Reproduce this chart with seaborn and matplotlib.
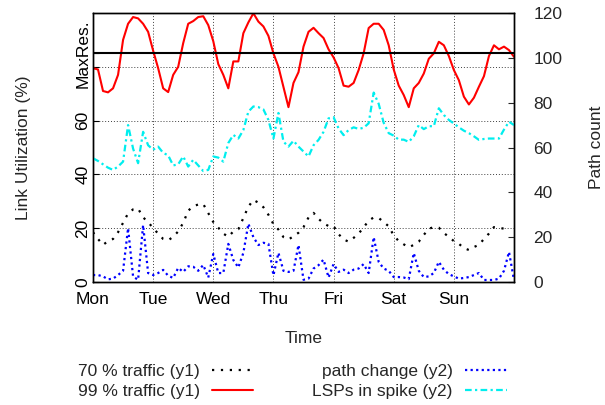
import matplotlib
matplotlib.use('Agg')

import numpy as np
import pandas as pd
import matplotlib.pyplot as plt
import seaborn as sns

# week of samples, one every 2 hours starting Monday 00:00
days = ["Mon", "Tue", "Wed", "Thu", "Fri", "Sat", "Sun"]
hours = np.arange(0, 170, 2)

# y1: link utilization (%)
traffic_99 = [79.5, 79, 71, 70.5, 72, 77, 90, 96, 98.5, 98,
              96, 93, 86, 79.5, 72, 70.6, 77, 80, 88.8, 96,
              97, 98.5, 98.8, 95.5, 89.5, 81, 77, 72, 82, 82,
              92.5, 96.5, 99.9, 96.8, 95, 91.5, 85, 80, 72.5, 65,
              74, 78, 87.5, 93, 94.5, 92.5, 90.7, 86.5, 83.5, 79.5,
              73, 72.6, 74, 78.8, 85, 94.4, 96, 96, 93.7, 88,
              79, 73, 69.5, 65, 72, 74, 77.5, 83, 85, 89.3,
              88, 84, 78.8, 75, 68.9, 66, 68.5, 72.6, 76.5, 84,
              88, 86.5, 87.5, 86.2, 83.7]
traffic_70 = [18.5, 16, 13.8, 15.2, 16, 18.5, 22, 25.5, 27, 27.3,
              24, 22.3, 20, 18, 16, 15.5, 16.8, 18.8, 22, 26.5,
              28.2, 28.8, 29, 25.6, 22.3, 20.2, 18, 16.8, 18.8, 19.6,
              23.8, 28, 30.5, 29.5, 27.8, 25, 21.5, 19.5, 16.7, 15.8,
              17, 18.3, 20.4, 24, 25.7, 23.5, 21.8, 20.8, 20.8, 17.8,
              15.8, 15, 16.4, 18, 20.3, 22.8, 24, 23.8, 22.3, 20.7,
              17.3, 15.2, 14, 12.9, 13.8, 15, 17.5, 19.8, 20.4, 20.2,
              18.2, 16.8, 15.2, 14.2, 12.6, 11.9, 13, 13.8, 16, 18,
              20.4, 20.2, 19.8, 19.5, np.nan]

# y2: path counts
path_change = [3.1, 3.1, 2.5, 1.2, 1.5, 3.1, 5, 24, 2.4, 1,
               25.4, 4, 3.1, 4, 5.4, 2.8, 1.8, 6.3, 4.5, 7,
               6.8, 5, 7.6, 2, 12.5, 4, 4, 17, 9.8, 6.5,
               13, 26, 20, 16.5, 17.5, 17, 3, 13, 5, 4.5,
               5, 16.5, 1, 1.5, 6, 7.5, 10, 2, 8, 4.5,
               5.5, 4, 5.5, 6, 8, 4, 20, 9, 6, 5,
               2.2, 2.2, 2, 1.3, 12.9, 5, 2.2, 2.5, 4, 9,
               5.5, 3.5, 2.5, 1.5, 1.8, 2.2, 3.1, 4, 0.9, 0.9,
               0.9, 1.5, 5, 13.4, 0.9]
lsp_spike = [55.2, 54, 52.5, 51, 50, 51.5, 53.7, 70, 59.5, 53,
             67, 61, 59, 60.4, 57.6, 56.5, 52, 52.5, 56, 51.5,
             54.5, 52, 49.5, 50, 56, 55.5, 53.7, 62, 65.6, 64,
             67.8, 76, 78.3, 78, 77, 72.3, 64, 75.4, 62.6, 60.4,
             63, 60.4, 58.2, 56, 61, 63.4, 67, 73, 73.5, 68.5,
             65.5, 67.8, 69, 68.3, 68.8, 70.8, 84.5, 79.5, 71, 66.4,
             65.3, 63.5, 63.5, 62.5, 65, 70, 68.2, 69.5, 69.5, 77.5,
             74.5, 72.3, 70.7, 69, 67.5, 66.4, 65, 63.4, 63.8, 64,
             64, 64, 68, 71.5, 70]

max_res = 85

df = pd.DataFrame({"day": hours / 24, "t99": traffic_99, "t70": traffic_70,
                   "path": path_change, "lsp": lsp_spike})

sns.set_style("white")
plt.rcParams['font.family'] = ['Liberation Sans', 'DejaVu Sans']
fs = 12.5

fig, ax = plt.subplots(figsize=(6.05, 4.05), dpi=100)
fig.subplots_adjust(left=0.1537, right=0.8496, bottom=0.3037, top=0.9679)
ax2 = ax.twinx()

sns.lineplot(data=df, x="day", y="t70", ax=ax, color="black", lw=1.6,
             linestyle=(0, (1, 3)), label="70 % traffic (y1)", legend=False)
sns.lineplot(data=df, x="day", y="t99", ax=ax, color="#ff0000", lw=1.5,
             label="99 % traffic (y1)", legend=False)
sns.lineplot(data=df, x="day", y="path", ax=ax2, color="#0000ff", lw=1.6,
             linestyle=(0, (1, 1.5)), label="path change (y2)", legend=False)
sns.lineplot(data=df, x="day", y="lsp", ax=ax2, color="#00eeee", lw=1.6,
             linestyle=(0, (3, 1.5, 1, 1.5)), label="LSPs in spike (y2)", legend=False)
handles = [ax.lines[0], ax.lines[1], ax2.lines[0], ax2.lines[1]]

ax.axhline(max_res, color="black", lw=1.5)

ax.set_xlim(0, 7)
ax.set_ylim(0, 100)
ax2.set_ylim(0, 120)

ax.set_xticks(range(7))
ax.set_xticklabels(days, fontsize=fs)
ax.set_yticks([0, 20, 40, 60, 80, max_res])
ax.set_yticklabels(["0", "20", "40", "60", "", "MaxRes."], rotation=90,
                   va="center", fontsize=fs)
ax2.set_yticks(range(0, 121, 20))
ax2.set_yticklabels([str(v) for v in range(0, 121, 20)], fontsize=fs)

ax.grid(True, color="0.25", linestyle=(0, (1, 2)), lw=0.7)
ax2.grid(False)
ax.tick_params(axis="both", direction="in", length=4.5, width=0.8, colors="black")
ax.tick_params(axis="x", pad=7)
ax.tick_params(axis="y", pad=2)
ax2.tick_params(axis="y", direction="in", length=4.5, width=0.8, pad=14)

for a in (ax, ax2):
    for s in a.spines.values():
        s.set_color("black")
        s.set_linewidth(1.0)

ax.set_xlabel("Time", fontsize=fs)
ax.xaxis.set_label_coords(0.5, -0.184)
ax.set_ylabel("Link Utilization (%)", fontsize=fs)
ax.yaxis.set_label_coords(-0.147, 0.5)
ax2.set_ylabel("Path count", fontsize=fs)
ax2.yaxis.set_label_coords(1.178, 0.5)

fig.legend(handles, [h.get_label() for h in handles], ncols=2, markerfirst=False,
           frameon=False, loc="center", bbox_to_anchor=(0.4827, 0.0580),
           handlelength=2.4, handletextpad=0.7, columnspacing=3.4,
           labelspacing=0.3, fontsize=fs, borderpad=0)

fig.savefig("out.png", dpi=100)
